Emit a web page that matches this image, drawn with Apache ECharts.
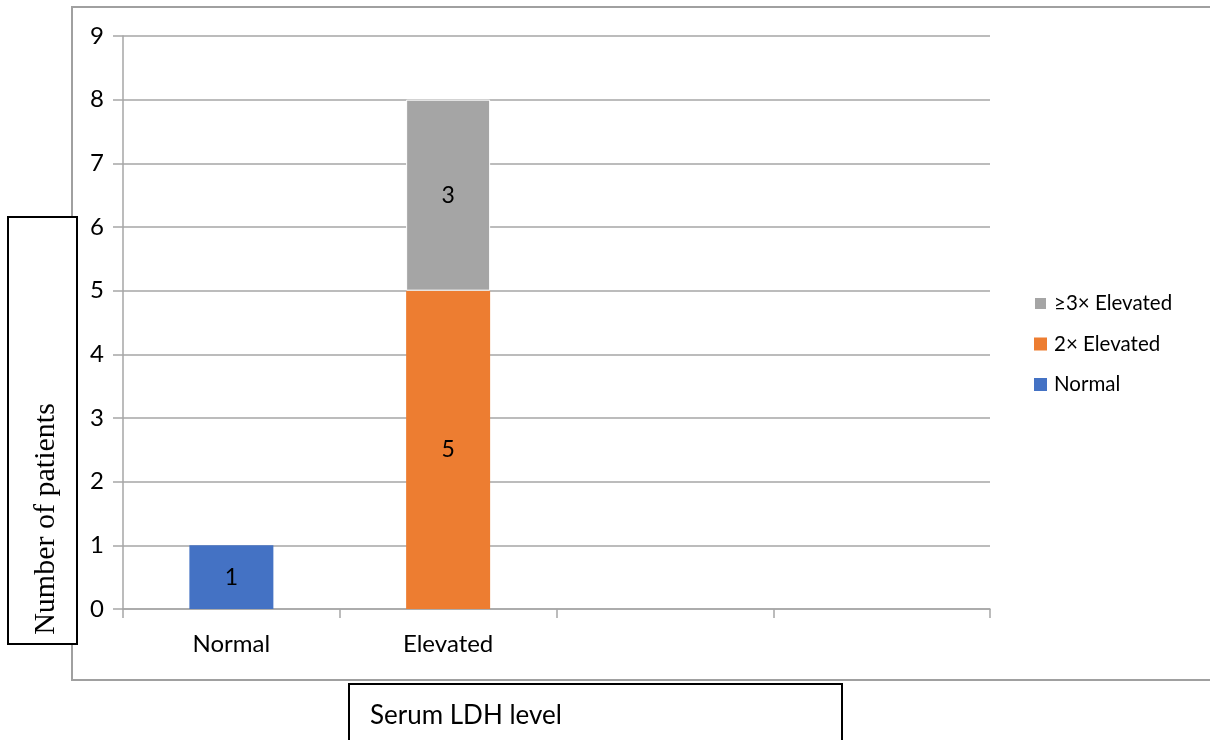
<!DOCTYPE html>
<html>
<head>
<meta charset="utf-8">
<script src="https://cdn.jsdelivr.net/npm/echarts@6/dist/echarts.min.js"></script>
<style>
  html, body { margin: 0; padding: 0; background: #ffffff; }
  #chart { width: 1210px; height: 740px; }
</style>
</head>
<body>
<div id="chart"></div>
<script>
// Serum LDH level groups (two trailing empty slots keep the category spacing)
const categories = ['Normal', 'Elevated', '', ''];
const normalCounts = [1, null, null, null];
const twoFoldCounts = [null, 5, null, null];
const threeFoldCounts = [null, 3, null, null];
const yTicks = { min: 0, max: 9, interval: 1 };

const uiFont = 'Lato, "Open Sans", sans-serif';

function valueLabel() {
  return {
    show: true,
    position: 'inside',
    color: '#000000',
    fontFamily: uiFont,
    fontSize: 23,
    formatter: p => (p.value == null ? '' : String(p.value))
  };
}

const chart = echarts.init(document.getElementById('chart'), null, { renderer: 'canvas' });

chart.setOption({
  animation: false,
  backgroundColor: '#ffffff',
  grid: { left: 123, right: 220, top: 36, bottom: 131, containLabel: false },
  legend: {
    orient: 'vertical',
    left: 1028,
    top: 288,
    itemWidth: 13,
    itemHeight: 13,
    itemGap: 19.5,
    icon: 'rect',
    textStyle: { fontFamily: uiFont, fontSize: 20.5, color: '#000000', padding: [0, 0, 0, 2] },
    data: ['≥3× Elevated', '2× Elevated', 'Normal']
  },
  xAxis: {
    type: 'category',
    data: categories,
    boundaryGap: true,
    axisLine: { show: true, lineStyle: { color: '#a6a6a6', width: 1.5 } },
    axisTick: { show: true, alignWithLabel: false, length: 9, lineStyle: { color: '#a6a6a6', width: 1.5 } },
    axisLabel: { margin: 23, fontFamily: uiFont, fontSize: 24, color: '#000000' },
    splitLine: { show: false }
  },
  yAxis: {
    type: 'value',
    min: yTicks.min,
    max: yTicks.max,
    interval: yTicks.interval,
    axisLine: { show: true, lineStyle: { color: '#a6a6a6', width: 1.5 } },
    axisTick: { show: true, length: 10, lineStyle: { color: '#a6a6a6', width: 1.5 } },
    axisLabel: { margin: 19, fontFamily: uiFont, fontSize: 24, color: '#000000' },
    splitLine: { show: true, lineStyle: { color: '#a6a6a6', width: 1.5 } }
  },
  series: [
    {
      name: 'Normal',
      type: 'bar',
      stack: 'ldh',
      barWidth: 84,
      data: normalCounts,
      itemStyle: { color: '#4472c4' },
      label: valueLabel()
    },
    {
      name: '2× Elevated',
      type: 'bar',
      stack: 'ldh',
      barWidth: 84,
      data: twoFoldCounts,
      itemStyle: { color: '#ed7d31' },
      label: valueLabel()
    },
    {
      name: '≥3× Elevated',
      type: 'bar',
      stack: 'ldh',
      barWidth: 84,
      data: threeFoldCounts,
      itemStyle: { color: '#a5a5a5', borderColor: '#ffffff', borderWidth: 1 },
      label: valueLabel()
    }
  ],
  graphic: [
    // chart frame
    {
      type: 'rect', z: -10,
      shape: { x: 72, y: 7, width: 1160, height: 673 },
      style: { fill: 'none', stroke: '#a0a0a0', lineWidth: 2 }
    },
    // y-axis title box
    {
      type: 'rect', z: 10,
      shape: { x: 8, y: 217, width: 69, height: 427 },
      style: { fill: '#ffffff', stroke: '#000000', lineWidth: 2 }
    },
    {
      type: 'text', z: 11,
      x: 46, y: 519, rotation: Math.PI / 2,
      style: {
        text: 'Number of patients',
        fontFamily: '"Liberation Serif", "DejaVu Serif", serif',
        fontSize: 30,
        fill: '#000000',
        align: 'center',
        verticalAlign: 'middle'
      }
    },
    // x-axis title box
    {
      type: 'rect', z: 10,
      shape: { x: 349, y: 684, width: 493, height: 70 },
      style: { fill: '#ffffff', stroke: '#000000', lineWidth: 2 }
    },
    {
      type: 'text', z: 11,
      x: 370, y: 716,
      style: {
        text: 'Serum LDH level',
        fontFamily: uiFont,
        fontSize: 26,
        fill: '#000000',
        align: 'left',
        verticalAlign: 'middle'
      }
    }
  ]
});
</script>
</body>
</html>
